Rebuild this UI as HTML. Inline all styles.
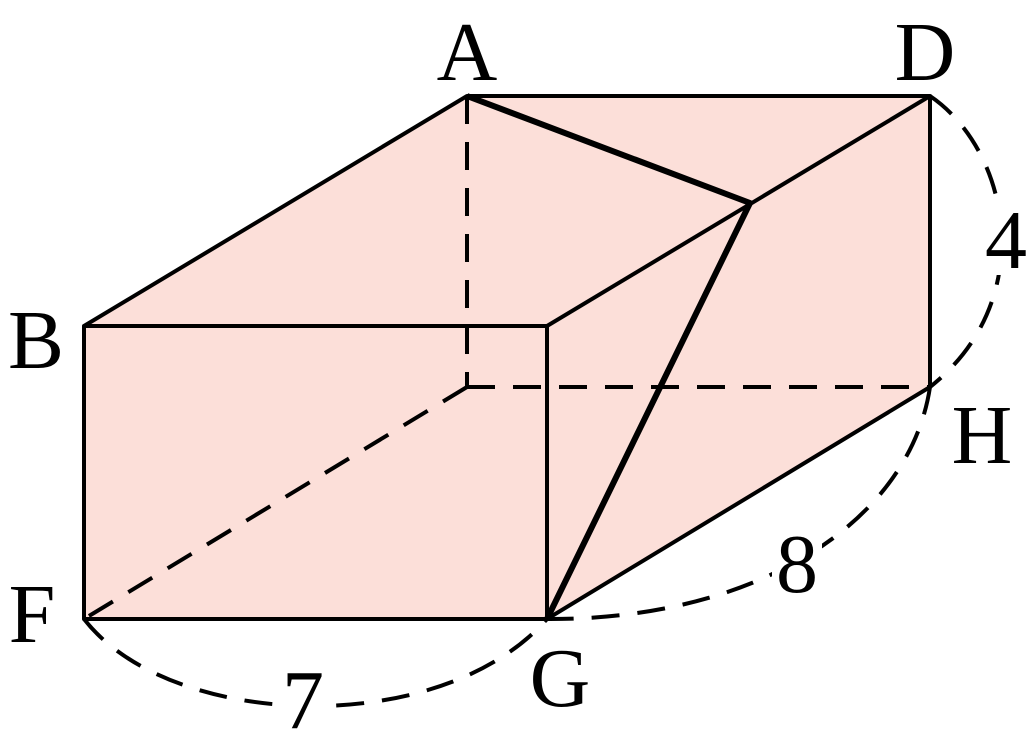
<!DOCTYPE html>
<html><head><style>html,body{margin:0;padding:0;background:#fff}svg{display:block}</style></head>
<body>
<svg width="1033" height="756" viewBox="0 0 1033 756" xmlns="http://www.w3.org/2000/svg">
<polygon points="467,96 930,96 930,387 547,619 84,619 84,326" fill="#fcdfd9"/>
<g stroke="#000" stroke-width="4" fill="none" stroke-linejoin="round">
<polyline points="84,326 467,96 930,96 930,387 547,619 84,619 84,326 547,326 547,619"/>
<line x1="547" y1="326" x2="930" y2="96"/>
</g>
<g stroke="#000" stroke-width="6" fill="none" stroke-linejoin="round">
<polyline points="467,96 750,203 547,619"/>
</g>
<g stroke="#000" stroke-width="4" fill="none" stroke-dasharray="28,18">
<line x1="467" y1="96" x2="467" y2="387"/>
<line x1="467" y1="387" x2="930" y2="387"/>
<line x1="467" y1="387" x2="84" y2="619"/>
<path d="M930,96 C1010,150 1040,300 930,387"/>
<path d="M930,387 C910,520 760,620 547,619"/>
<path d="M84,619 C170,730 440,740 547,619"/>
</g>
<g fill="#fff">
<rect x="982" y="205" width="48" height="70"/>
<rect x="772" y="530" width="50" height="70"/>
<rect x="278" y="665" width="50" height="70"/>
</g>
<g font-family="Liberation Serif, serif" font-size="84" fill="#000" text-anchor="middle">
<text x="467" y="80">A</text>
<text x="925" y="80">D</text>
<text x="36" y="368">B</text>
<text x="982" y="463">H</text>
<text x="32" y="642">F</text>
<text x="560" y="706">G</text>
<text x="1006" y="268">4</text>
<text x="797" y="592">8</text>
<text x="303" y="728">7</text>
</g>
</svg>
</body></html>
